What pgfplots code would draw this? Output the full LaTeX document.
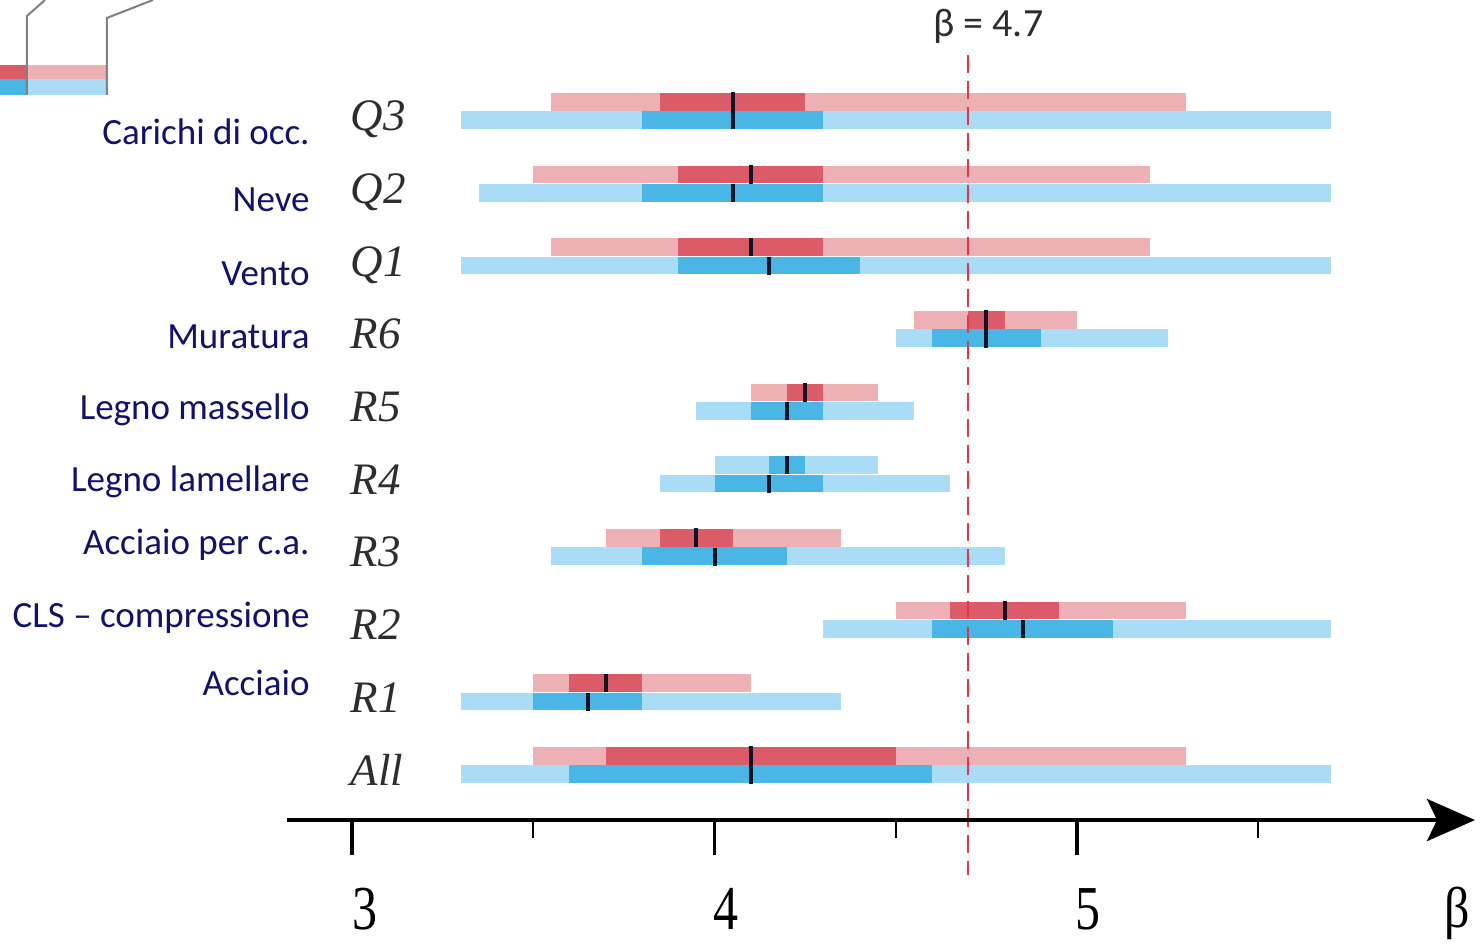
\documentclass[border=0pt]{standalone}
\usepackage{pgfplots}
\pgfplotsset{compat=1.18}
\usepackage{graphicx}
\usepackage{fontspec}
\setmainfont{Liberation Serif}
\newfontfamily\calfont{Carlito}
\usetikzlibrary{arrows.meta}
\definecolor{lightred}{RGB}{236,176,181}
\definecolor{darkred}{RGB}{219,92,104}
\definecolor{lightblue}{RGB}{170,221,245}
\definecolor{darkblue}{RGB}{74,182,230}
\definecolor{medcol}{RGB}{15,20,35}
\definecolor{navy}{RGB}{17,17,110}
\definecolor{rowgray}{RGB}{45,45,45}
\definecolor{dashred}{RGB}{228,52,72}
\tikzset{
  rowlab/.style={anchor=base west, inner sep=0, text=rowgray, font=\itshape\fontsize{22.5}{24}\selectfont},
  leftlab/.style={anchor=base east, inner sep=0, text=navy, font=\calfont\fontsize{18.5}{20}\selectfont},
  ticklab/.style={inner sep=0, font=\fontsize{25}{25}\selectfont},
}
\begin{document}
\begin{tikzpicture}
\begin{axis}[
  scale only axis, width=741.5pt, height=471.5pt,
  xmin=2.029, xmax=6.12, ymin=-2.449, ymax=10.527,
  axis lines=none, clip=false,
  unbounded coords=jump,
]
% light red (upper bars)
\addplot[lightred, line width=8.8pt, line cap=butt] coordinates {
 (3.55,9.127) (5.30,9.127) (nan,nan)
 (3.50,8.127) (5.20,8.127) (nan,nan)
 (3.55,7.127) (5.20,7.127) (nan,nan)
 (4.55,6.127) (5.00,6.127) (nan,nan)
 (4.10,5.127) (4.45,5.127) (nan,nan)
 (3.70,3.127) (4.35,3.127) (nan,nan)
 (4.50,2.127) (5.30,2.127) (nan,nan)
 (3.50,1.127) (4.10,1.127) (nan,nan)
 (3.50,0.127) (5.30,0.127)
};
% light blue
\addplot[lightblue, line width=8.8pt, line cap=butt] coordinates {
 (4.00,4.127) (4.45,4.127) (nan,nan)
 (3.30,8.873) (5.70,8.873) (nan,nan)
 (3.35,7.873) (5.70,7.873) (nan,nan)
 (3.30,6.873) (5.70,6.873) (nan,nan)
 (4.50,5.873) (5.25,5.873) (nan,nan)
 (3.95,4.873) (4.55,4.873) (nan,nan)
 (3.85,3.873) (4.65,3.873) (nan,nan)
 (3.55,2.873) (4.80,2.873) (nan,nan)
 (4.30,1.873) (5.70,1.873) (nan,nan)
 (3.30,0.873) (4.35,0.873) (nan,nan)
 (3.30,-0.127) (5.70,-0.127)
};
% dark red
\addplot[darkred, line width=8.8pt, line cap=butt] coordinates {
 (3.85,9.127) (4.25,9.127) (nan,nan)
 (3.90,8.127) (4.30,8.127) (nan,nan)
 (3.90,7.127) (4.30,7.127) (nan,nan)
 (4.70,6.127) (4.80,6.127) (nan,nan)
 (4.20,5.127) (4.30,5.127) (nan,nan)
 (3.85,3.127) (4.05,3.127) (nan,nan)
 (4.65,2.127) (4.95,2.127) (nan,nan)
 (3.60,1.127) (3.80,1.127) (nan,nan)
 (3.70,0.127) (4.50,0.127)
};
% dark blue
\addplot[darkblue, line width=8.8pt, line cap=butt] coordinates {
 (4.15,4.127) (4.25,4.127) (nan,nan)
 (3.80,8.873) (4.30,8.873) (nan,nan)
 (3.80,7.873) (4.30,7.873) (nan,nan)
 (3.90,6.873) (4.40,6.873) (nan,nan)
 (4.60,5.873) (4.90,5.873) (nan,nan)
 (4.10,4.873) (4.30,4.873) (nan,nan)
 (4.00,3.873) (4.30,3.873) (nan,nan)
 (3.80,2.873) (4.20,2.873) (nan,nan)
 (4.60,1.873) (5.10,1.873) (nan,nan)
 (3.50,0.873) (3.80,0.873) (nan,nan)
 (3.60,-0.127) (4.60,-0.127)
};
% target beta line
\addplot[dashred, line width=1pt, dash pattern=on 9pt off 4pt] coordinates {(4.7,9.77) (4.7,-1.514)};
% medians (upper)
\addplot[medcol, line width=2pt, line cap=butt] coordinates {
 (4.05,9.0) (4.05,9.255) (nan,nan)
 (4.10,8.0) (4.10,8.255) (nan,nan)
 (4.10,7.0) (4.10,7.255) (nan,nan)
 (4.75,6.0) (4.75,6.255) (nan,nan)
 (4.25,5.0) (4.25,5.255) (nan,nan)
 (4.20,4.0) (4.20,4.255) (nan,nan)
 (3.95,3.0) (3.95,3.255) (nan,nan)
 (4.80,2.0) (4.80,2.255) (nan,nan)
 (3.70,1.0) (3.70,1.255) (nan,nan)
 (4.10,0.0) (4.10,0.255)
};
% medians (lower)
\addplot[medcol, line width=2pt, line cap=butt] coordinates {
 (4.05,8.745) (4.05,9.0) (nan,nan)
 (4.05,7.745) (4.05,7.99) (nan,nan)
 (4.15,6.745) (4.15,6.99) (nan,nan)
 (4.75,5.745) (4.75,6.0) (nan,nan)
 (4.20,4.745) (4.20,4.99) (nan,nan)
 (4.15,3.745) (4.15,3.99) (nan,nan)
 (4.00,2.745) (4.00,2.99) (nan,nan)
 (4.85,1.745) (4.85,1.99) (nan,nan)
 (3.65,0.745) (3.65,0.99) (nan,nan)
 (4.10,-0.255) (4.10,0.0)
};
% beta axis
\addplot[black, line width=2.2pt, -{Stealth[length=24pt,width=21pt,inset=5pt]}] coordinates {(2.821,-0.757) (6.098,-0.757)};
\addplot[black, line width=1.7pt] coordinates {
 (3,-0.757) (3,-1.238) (nan,nan)
 (4,-0.757) (4,-1.238) (nan,nan)
 (5,-0.757) (5,-1.238)
};
\addplot[black, line width=1.1pt] coordinates {
 (3.5,-0.757) (3.5,-1.0) (nan,nan)
 (4.5,-0.757) (4.5,-1.0) (nan,nan)
 (5.5,-0.757) (5.5,-1.0)
};
% legend fragment, top left
\addplot[darkred, line width=7pt, line cap=butt] coordinates {(2.029,9.536) (2.1034,9.536)};
\addplot[lightred, line width=7pt, line cap=butt] coordinates {(2.1034,9.536) (2.3241,9.536)};
\addplot[darkblue, line width=8pt, line cap=butt] coordinates {(2.029,9.33) (2.1034,9.33)};
\addplot[lightblue, line width=8pt, line cap=butt] coordinates {(2.1034,9.33) (2.3241,9.33)};
\addplot[gray, line width=1pt] coordinates {(2.1034,9.22) (2.1034,10.307) (2.1531,10.527)};
\addplot[gray, line width=1pt] coordinates {(2.3241,9.22) (2.3241,10.28) (2.451,10.527)};
% texts
\node[anchor=base west, inner sep=0, text=rowgray, font=\calfont\fontsize{20}{21}\selectfont] at (axis cs:4.6028,10.018) {β = 4.7};
\node[ticklab] at (axis cs:3.035,-1.982) {\scalebox{1}[1.25]{3}};
\node[ticklab] at (axis cs:4.033,-1.982) {\scalebox{1}[1.25]{4}};
\node[ticklab] at (axis cs:5.030,-1.982) {\scalebox{1}[1.25]{5}};
\node[ticklab] at (axis cs:6.048,-2.037) {\scalebox{1}[1.15]{β}};
\node[rowlab] at (axis cs:2.995,8.725) {Q3};
\node[rowlab] at (axis cs:2.995,7.725) {Q2};
\node[rowlab] at (axis cs:2.995,6.725) {Q1};
\node[rowlab] at (axis cs:2.995,5.725) {R6};
\node[rowlab] at (axis cs:2.995,4.725) {R5};
\node[rowlab] at (axis cs:2.995,3.725) {R4};
\node[rowlab] at (axis cs:2.995,2.725) {R3};
\node[rowlab] at (axis cs:2.995,1.725) {R2};
\node[rowlab] at (axis cs:2.995,0.725) {R1};
\node[rowlab] at (axis cs:2.995,-0.275) {All};
\node[leftlab] at (axis cs:2.8841,8.532) {Carichi di occ.};
\node[leftlab] at (axis cs:2.8841,7.610) {Neve};
\node[leftlab] at (axis cs:2.8841,6.605) {Vento};
\node[leftlab] at (axis cs:2.8841,5.725) {Muratura};
\node[leftlab] at (axis cs:2.8841,4.761) {Legno massello};
\node[leftlab] at (axis cs:2.8841,3.757) {Legno lamellare};
\node[leftlab] at (axis cs:2.8841,2.890) {Acciaio per c.a.};
\node[leftlab] at (axis cs:2.8841,1.899) {CLS – compressione};
\node[leftlab] at (axis cs:2.8841,0.950) {Acciaio};
\end{axis}
\pgfresetboundingbox
\useasboundingbox (current axis.south west) rectangle (current axis.north east);
\end{tikzpicture}
\end{document}
